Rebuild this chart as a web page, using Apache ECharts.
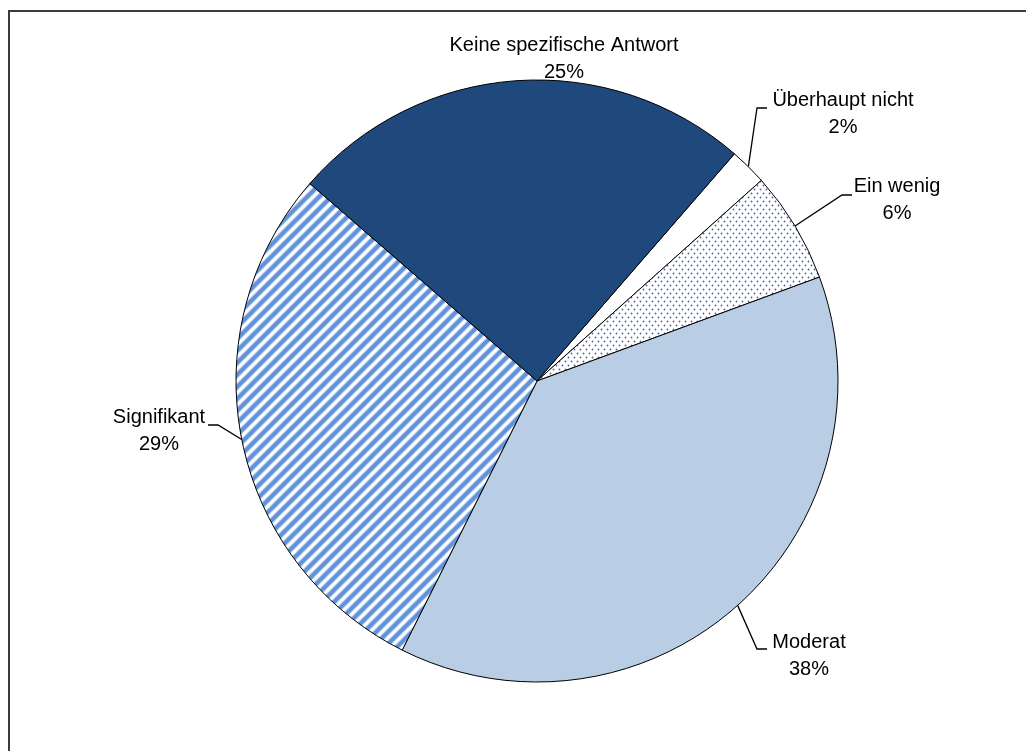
<!DOCTYPE html>
<html>
<head>
<meta charset="utf-8">
<script src="https://cdn.jsdelivr.net/npm/echarts@6/dist/echarts.min.js"></script>
<style>
  html, body { margin: 0; padding: 0; background: #fff; }
  #chart { width: 1026px; height: 751px; }
</style>
</head>
<body>
<div id="chart"></div>
<script>
// Survey answer shares (percent), in clockwise drawing order
var categories = ['Überhaupt nicht', 'Ein wenig', 'Moderat', 'Signifikant', 'Keine spezifische Antwort'];
var shares = [2, 6, 38, 29, 25];

// Fill pattern: dotted tile
function dotTile() {
  var c = document.createElement('canvas');
  c.width = 6; c.height = 8;
  var g = c.getContext('2d');
  g.fillStyle = '#ffffff';
  g.fillRect(0, 0, 6, 8);
  g.fillStyle = '#4d6690';
  g.beginPath(); g.arc(1.5, 1.5, 0.9, 0, Math.PI * 2); g.fill();
  g.beginPath(); g.arc(4.5, 5.5, 0.9, 0, Math.PI * 2); g.fill();
  return c;
}

// Fill pattern: upward diagonal stripes
function stripeTile() {
  var s = 12;
  var c = document.createElement('canvas');
  c.width = s; c.height = s;
  var g = c.getContext('2d');
  g.fillStyle = '#ffffff';
  g.fillRect(0, 0, s, s);
  var segs = [[-s, s, s, -s], [0, s, s, 0], [0, 2 * s, 2 * s, 0]];
  [[5.5, '#a9c5ee'], [3.5, '#5f92da']].forEach(function (st) {
    g.lineWidth = st[0];
    g.strokeStyle = st[1];
    segs.forEach(function (p) {
      g.beginPath(); g.moveTo(p[0], p[1]); g.lineTo(p[2], p[3]); g.stroke();
    });
  });
  return c;
}

var fills = [
  '#ffffff',
  { image: dotTile(), repeat: 'repeat' },
  '#b9cde5',
  { image: stripeTile(), repeat: 'repeat' },
  '#1f497d'
];

// Label anchor (text centre) and leader-line elbow / end for each slice
var labelSpots = [
  { x: 843, y: 114, elbow: [757, 108], end: [767, 108] },
  { x: 897, y: 200, elbow: [842, 195], end: [852, 195] },
  { x: 809, y: 656, elbow: [757, 649], end: [767, 649] },
  { x: 159, y: 431, elbow: [218, 425], end: [208, 425] },
  { x: 564, y: 59, elbow: null, end: null }
];

var data = categories.map(function (name, i) {
  var item = { name: name, value: shares[i], itemStyle: { color: fills[i] } };
  if (!labelSpots[i].elbow) item.labelLine = { show: false };
  return item;
});

var chart = echarts.init(document.getElementById('chart'), null, { renderer: 'canvas' });
chart.setOption({
  backgroundColor: '#ffffff',
  animation: false,
  graphic: [{
    type: 'rect',
    shape: { x: 9, y: 11, width: 1100, height: 800 },
    style: { fill: 'none', stroke: '#3c3c3c', lineWidth: 2 },
    silent: true
  }],
  series: [{
    type: 'pie',
    center: [537, 381],
    radius: 301,
    startAngle: 49,
    clockwise: true,
    avoidLabelOverlap: false,
    data: data,
    itemStyle: { borderColor: '#000000', borderWidth: 1 },
    label: {
      show: true,
      position: 'outside',
      formatter: '{b}\n{c}%',
      color: '#000000',
      fontFamily: 'Liberation Sans, Arial, sans-serif',
      fontSize: 20,
      lineHeight: 27,
      align: 'center'
    },
    labelLine: {
      show: true,
      length: 20,
      length2: 10,
      lineStyle: { color: '#000000', width: 1.3 }
    },
    labelLayout: function (params) {
      var spot = labelSpots[params.dataIndex];
      var out = { x: spot.x, y: spot.y, align: 'center', verticalAlign: 'middle' };
      if (spot.elbow && params.labelLinePoints) {
        out.labelLinePoints = [params.labelLinePoints[0], spot.elbow, spot.end];
      }
      return out;
    }
  }]
});
</script>
</body>
</html>
